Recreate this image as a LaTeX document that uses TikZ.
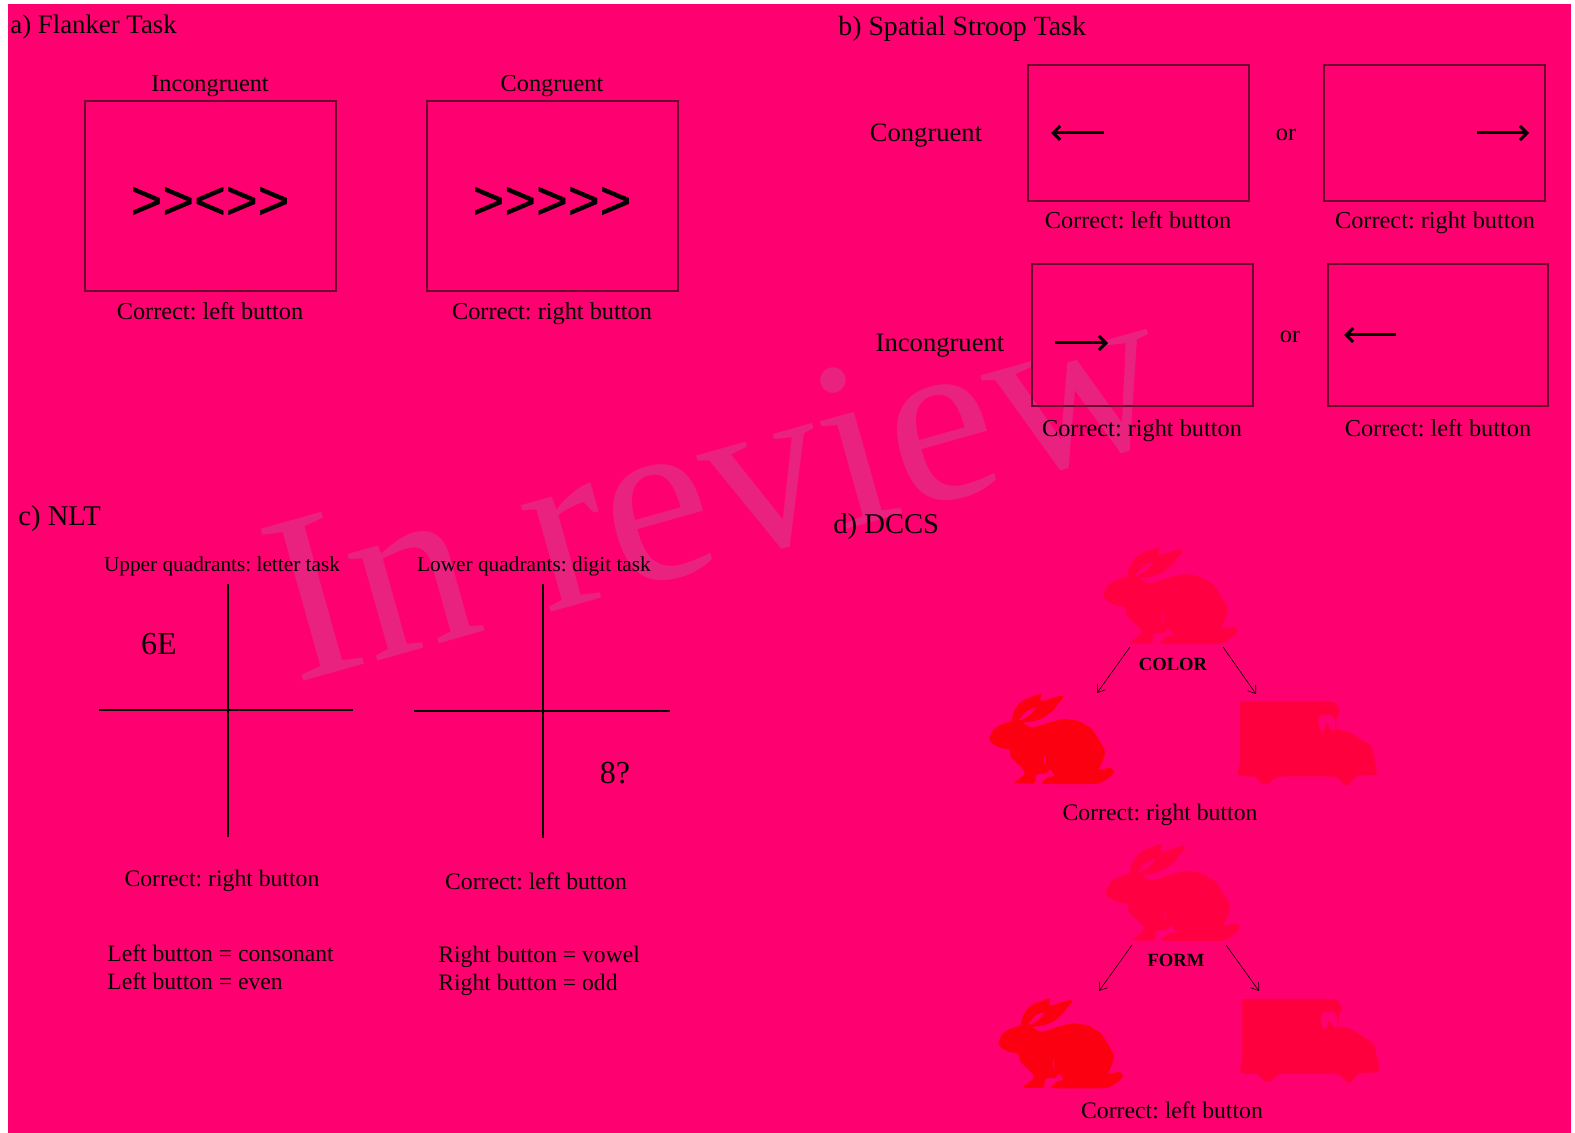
\documentclass[tikz,border=0pt]{standalone}
\usepackage{fontspec}
\usetikzlibrary{arrows.meta}
\setmainfont{Liberation Serif}
\newfontfamily\chevronfont[FakeBold=0.8]{Liberation Sans}
\definecolor{panelpink}{RGB}{255,0,112}
\definecolor{boxline}{RGB}{105,0,45}
\definecolor{markgray}{RGB}{233,34,128}
\definecolor{targetred}{RGB}{250,0,16}
\definecolor{rabbitred}{RGB}{255,0,66}
\definecolor{truckred}{RGB}{255,0,62}
\newcommand{\pxfont}[1]{\fontsize{#1}{#1}\selectfont}
\newcommand{\rabbitshape}[4]{% x, y, scale, colour
  \begin{scope}[shift={(#1,#2)},scale=#3/3,x=0.5pt,y=-0.5pt]
    \fill[#4] plot[smooth cycle,tension=.35] coordinates {
      (0,143) (15,113) (40,98) (73,86) (75,68) (90,38) (115,18) (165,0) (167,23)
      (230,5) (238,13) (220,33) (210,48) (180,73) (145,88) (110,93) (140,108)
      (190,93) (240,81) (290,88) (330,113) (360,158) (373,188) (365,218) (355,243)
      (390,238) (402,248) (395,263) (365,283) (340,290) (180,290) (172,283) (190,268)
      (210,263) (195,243) (185,256) (160,258) (150,263) (145,288) (85,288) (83,283)
      (110,263) (113,248) (100,233) (70,203) (65,180) (35,173) (10,160)};
    \fill[panelpink] plot[smooth cycle,tension=.4] coordinates {
      (97,83) (120,56) (148,45) (130,68) (100,85)};
    \fill[panelpink] (180,193) -- (175,213) -- (182,233) -- (180,213) -- cycle;
  \end{scope}}
\newcommand{\truckshape}[2]{% x, y
  \begin{scope}[shift={(#1,#2)},scale=1/3,x=0.5pt,y=-0.5pt]
    \fill[truckred] plot[smooth cycle,tension=.25] coordinates {
      (7,10) (17,0) (277,0) (297,10) (307,30) (297,45) (297,83) (332,90) (397,130)
      (407,155) (417,205) (412,220) (357,223) (332,250) (317,247) (292,225) (122,225)
      (92,247) (72,247) (52,225) (7,223) (0,210) (7,180)};
    \fill[panelpink] plot[smooth cycle,tension=.3] coordinates {
      (242,55) (252,40) (282,40) (292,55) (292,83) (282,85) (267,65) (257,90) (247,85)};
  \end{scope}}
\begin{document}
\frenchspacing
\begin{tikzpicture}[x=0.5pt,y=-0.5pt,
    lbl/.style={inner sep=0pt,font=\pxfont{12.15}},
    lblb/.style={inner sep=0pt,font=\pxfont{11.85}},
    head/.style={inner sep=0pt,anchor=west,font=\pxfont{14.3}},
    side/.style={inner sep=0pt,font=\pxfont{13.3}},
    small/.style={inner sep=0pt,font=\pxfont{10.65}},
    stim/.style={inner sep=0pt,font=\pxfont{16}},
    rule/.style={inner sep=0pt,anchor=west,font=\pxfont{11.8}},
    chevrons/.style={inner sep=0pt,font=\chevronfont\pxfont{27.2}},
    task/.style={inner sep=0pt,font=\bfseries\pxfont{9.3}},
    frame/.style={draw=boxline,line width=1pt},
    cross/.style={line width=1pt},
    cue/.style={-{Straight Barb[length=3.5pt,width=7pt]},line width=1.5pt},
    switch/.style={-{Straight Barb[length=3.5pt,width=5pt]},line width=0.3pt}]
  \useasboundingbox (0,0) rectangle (1575,1133);
  \fill[white] (0,0) rectangle (1575,1133);
  \fill[panelpink] (8,4) rectangle (1571,1133);

  % watermark
  \node[inner sep=0pt,anchor=base west,rotate=15.7,text=markgray,font=\pxfont{120.5}]
    (inReview) at (295,684) {In review};

  % a) Flanker Task
  \node[head,font=\pxfont{13.4}] (headA) at (10,27) {a) Flanker Task};
  \node[lbl] (incA) at (210,86) {Incongruent};
  \node[lbl] (conA) at (552,86) {Congruent};
  \draw[frame] (84.5,101.5) rectangle (336,291);
  \draw[frame] (427,101.5) rectangle (678,291);
  \node[chevrons] (stimInc) at (210,203) {>{}><{}>{}>};
  \node[chevrons] (stimCon) at (552,203) {>{}>{}>{}>{}>};
  \node[lbl] (ansInc) at (210,311) {Correct: left button};
  \node[lbl] (ansCon) at (552,314) {Correct: right button};

  % b) Spatial Stroop Task
  \node[head,font=\pxfont{13.9}] (headB) at (838,29) {b) Spatial Stroop Task};
  \node[side] (conB) at (926,136) {Congruent};
  \node[side] (incB) at (940,346) {Incongruent};
  \draw[frame] (1028,65) rectangle (1249,201);
  \draw[frame] (1324,65) rectangle (1545,201);
  \draw[frame] (1032,264) rectangle (1253,406);
  \draw[frame] (1328,264) rectangle (1548,406);
  \node[lbl] (or1) at (1286,135) {or};
  \node[lbl] (or2) at (1290,337) {or};
  \coordinate (c1a) at (1104,133); \coordinate (c1b) at (1051,133);
  \coordinate (c2a) at (1477,133); \coordinate (c2b) at (1529,133);
  \coordinate (c3a) at (1055,343); \coordinate (c3b) at (1108,343);
  \coordinate (c4a) at (1396,335); \coordinate (c4b) at (1344,335);
  \foreach \k in {1,2,3,4} {
    \draw[cue] (c\k a) -- (c\k b);
  }
  \node[lbl] (ans1) at (1138,220) {Correct: left button};
  \node[lbl] (ans2) at (1435,223) {Correct: right button};
  \node[lbl] (ans3) at (1142,431) {Correct: right button};
  \node[lbl] (ans4) at (1438,428) {Correct: left button};

  % c) NLT
  \node[head] (headC) at (18,519) {c) NLT};
  \node[small] (upper) at (222,566) {Upper quadrants: letter task};
  \node[small] (lower) at (534,566) {Lower quadrants: digit task};
  \draw[cross] (228,584) -- (228,837);
  \draw[cross] (99,710) -- (353,710);
  \draw[cross] (542.5,584) -- (542.5,838);
  \draw[cross] (414,711) -- (670,711);
  \node[stim] (sixE) at (159,644) {6E};
  \node[stim] (eightQ) at (615,773) {8?};
  \node[lblb] (ansUp) at (222,881) {Correct: right button};
  \node[lblb] (ansLo) at (536,881) {Correct: left button};
  \node[rule] (ruleA) at (107,953) {Left button = consonant};
  \node[rule] (ruleB) at (107,981) {Left button = even};
  \node[rule] (ruleC) at (438,957) {Right button = vowel};
  \node[rule] (ruleD) at (438,985) {Right button = odd};

  % d) DCCS
  \node[head] (headD) at (833,527) {d) DCCS};
  \rabbitshape{1103.3}{547.3}{1}{rabbitred}
  \rabbitshape{989.3}{694}{.93}{targetred}
  \truckshape{1237.7}{701.7}
  \node[task] (color) at (1173,664) {COLOR};
  \coordinate (colorL) at (1130,647); \coordinate (colorLe) at (1097,693);
  \coordinate (colorR) at (1223,647); \coordinate (colorRe) at (1256,694);
  \draw[switch] (colorL) -- (colorLe);
  \draw[switch] (colorR) -- (colorRe);
  \node[lblb] (ansColor) at (1160,815) {Correct: right button};
  \rabbitshape{1105.7}{844.3}{1}{rabbitred}
  \rabbitshape{998.3}{998.3}{.93}{targetred}
  \truckshape{1240}{999}
  \node[task] (form) at (1176,960) {FORM};
  \coordinate (formL) at (1132,945); \coordinate (formLe) at (1099,991);
  \coordinate (formR) at (1226,945); \coordinate (formRe) at (1259,991);
  \draw[switch] (formL) -- (formLe);
  \draw[switch] (formR) -- (formRe);
  \node[lblb] (ansForm) at (1172,1110) {Correct: left button};
\end{tikzpicture}
\end{document}
